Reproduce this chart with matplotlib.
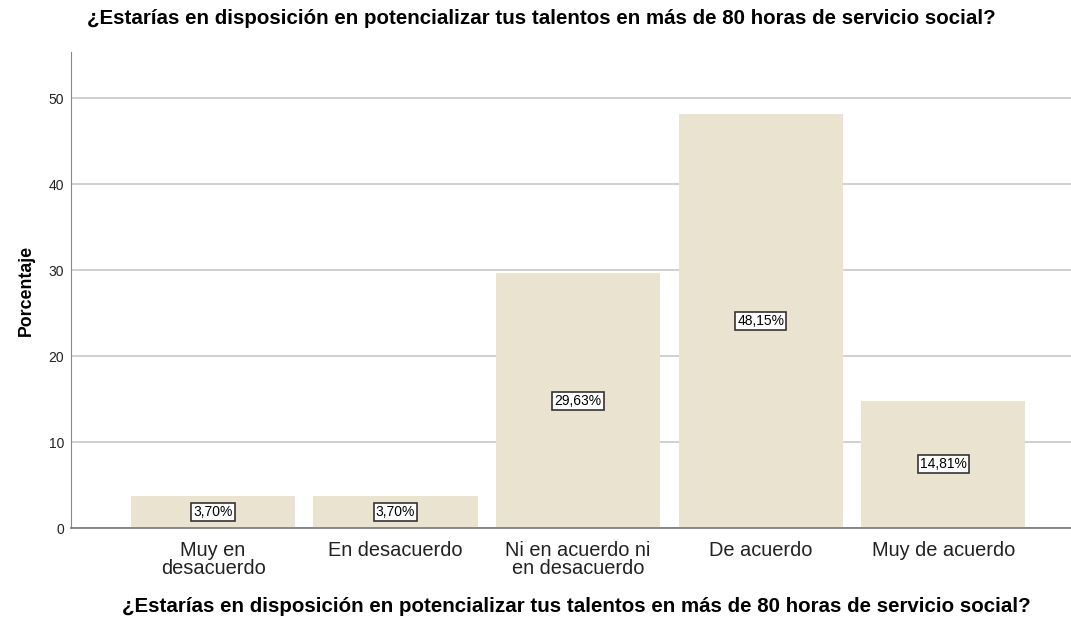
import matplotlib.pyplot as plt
import numpy as np

plt.rcParams['font.family'] = ['Liberation Sans', 'DejaVu Sans']

# Data
categories = ['Muy en\ndesacuerdo', 'En desacuerdo', 'Ni en acuerdo ni\nen desacuerdo',
              'De acuerdo', 'Muy de acuerdo']
percentages = [3.70, 3.70, 29.63, 48.15, 14.81]
y_ticks = [0, 10, 20, 30, 40, 50]
title = '¿Estarías en disposición en potencializar tus talentos en más de 80 horas de servicio social?'

fig = plt.figure(figsize=(10.71, 6.22), dpi=100)
ax = fig.add_axes([71 / 1071, 1 - 528 / 622, 1 - 71 / 1071, (528 - 52) / 622])

x = np.arange(len(categories))
ax.bar(x, percentages, width=0.9, color='#EAE3CF', zorder=2)

# Boxed value labels at half height of each bar
for xi, val in zip(x, percentages):
    ax.text(xi, val / 2, f'{val:.2f}%'.replace('.', ','), ha='center', va='center',
            fontsize=10, zorder=3,
            bbox=dict(boxstyle='square,pad=0.15', facecolor='white',
                      edgecolor='#333333', linewidth=1.2))

ax.set_xlim(-0.778, 4.70)
ax.set_ylim(0, 55.35)
ax.set_yticks(y_ticks)
ax.set_xticks(x)
ax.set_xticklabels(categories, fontsize=14.4, color='#222222', linespacing=1.0)
ax.tick_params(axis='y', length=0, pad=5, labelsize=10, labelcolor='#222222')
ax.tick_params(axis='x', length=0, pad=9)

ax.grid(axis='y', color='#C8C8C8', linewidth=1.2, zorder=1)
ax.set_axisbelow(True)
for side in ['top', 'right']:
    ax.spines[side].set_visible(False)
ax.spines['left'].set_color('#888888')
ax.spines['bottom'].set_color('#777777')
ax.spines['bottom'].set_linewidth(1.2)

ax.set_ylabel('Porcentaje', fontsize=12.8, fontweight='bold', labelpad=10)
fig.text(541 / 1071, 1 - 18 / 622, title, ha='center', va='center',
         fontsize=14.8, fontweight='bold')
fig.text(576 / 1071, 1 - 606 / 622, title, ha='center', va='center',
         fontsize=14.8, fontweight='bold')

fig.savefig('out.png', dpi=100)
